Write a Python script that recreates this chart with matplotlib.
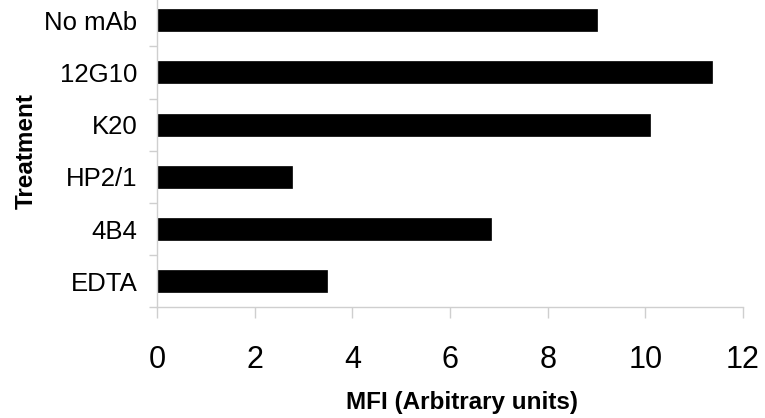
import matplotlib
matplotlib.use("Agg")
import matplotlib.pyplot as plt
import numpy as np

categories = ["No mAb", "12G10", "K20", "HP2/1", "4B4", "EDTA"]
values = [9.02, 11.36, 10.10, 2.77, 6.83, 3.49]
xticks = [0, 2, 4, 6, 8, 10, 12]

plt.rcParams['font.family'] = ['Liberation Sans', 'DejaVu Sans']

W, H = 765, 418
fig = plt.figure(figsize=(W / 100, H / 100), dpi=100)
ax = fig.add_axes([157 / W, (H - 307.3) / H, 586 / W, (307.3 + 5.9) / H])

n = len(categories)
ypos = np.arange(n)[::-1]
ax.barh(ypos, values, height=0.42, color='black', edgecolor='black', linewidth=0.5)

ax.set_xlim(0, 12)
ax.set_ylim(-0.5, n - 0.5)

gray = '#cfcfcf'
for s in ['top', 'right']:
    ax.spines[s].set_visible(False)
for s in ['left', 'bottom']:
    ax.spines[s].set_color(gray)
    ax.spines[s].set_linewidth(1.0)

ax.set_yticks(ypos)
ax.set_yticklabels(categories, fontsize=18.5)
ax.set_yticks(np.arange(-0.5, n, 1.0), minor=True)
ax.tick_params(axis='y', which='major', length=0, pad=14)
ax.tick_params(axis='y', which='minor', length=6, color=gray, width=1.0)

ax.set_xticks(xticks)
ax.set_xticklabels([str(t) for t in xticks], fontsize=22)
ax.tick_params(axis='x', which='major', length=8, color=gray, width=1.0, pad=19)

ax.set_xlabel("MFI (Arbitrary units)", fontsize=17.5, fontweight='bold')
ax.xaxis.set_label_coords(0.52, -0.268)
ax.set_ylabel("Treatment", fontsize=17.5, fontweight='bold', labelpad=5)

fig.savefig("out.png", dpi=100)
